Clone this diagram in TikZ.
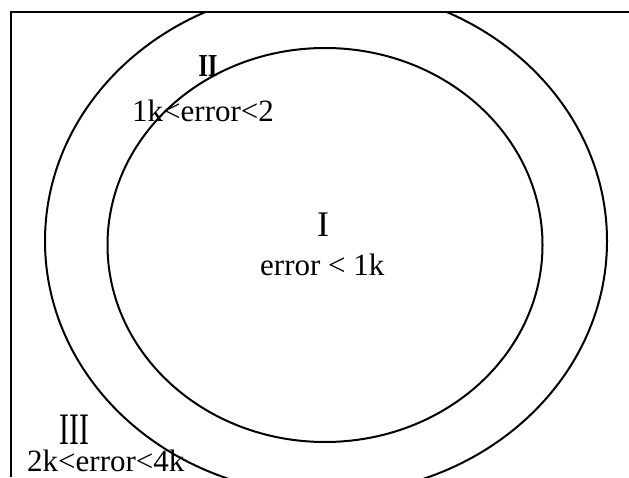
\documentclass[tikz,border=0pt]{standalone}
\usepackage{fontspec}
\usepackage{graphicx}
\setmainfont{Liberation Serif}
\begin{document}
\begin{tikzpicture}[x=1pt,y=1pt,
  txt/.style={inner sep=0pt, font=\fontsize{31}{36}\selectfont},
  ring/.style={line width=2pt},
  frameline/.style={line width=2pt}]
\useasboundingbox (0,0) rectangle (629,477);
\coordinate (fbl) at (11,0);
\coordinate (ftl) at (11,465);
\coordinate (ftr) at (629,465);
\draw[frameline] (fbl) -- (ftl) -- (ftr);
\begin{scope}
  \clip (11,0) rectangle (629,465);
  \draw[ring] (326,236) ellipse [x radius=281, y radius=253.5];
  \draw[ring] (325,232) ellipse [x radius=217.5, y radius=197];
\end{scope}
\node[inner sep=0pt, anchor=base, font=\fontsize{32}{36}\selectfont] (n2) at (208,400) {\scalebox{0.78}[1]{\bfseries II}};
\node[txt, anchor=base west] (t2) at (132,355) {1k<error<2};
\node[anchor=base, inner sep=0pt, font=\fontsize{36}{40}\selectfont] (n1) at (323,240) {I};
\node[txt, anchor=base west] (t1) at (260,201) {error < 1k};
\node[anchor=base, inner sep=0pt, font=\fontsize{45}{50}\selectfont] (n3) at (74.5,33) {\scalebox{0.66}[1]{III}};
\node[txt, anchor=base west] (t3) at (27,5.5) {2k<error<4k};
\end{tikzpicture}
\end{document}
